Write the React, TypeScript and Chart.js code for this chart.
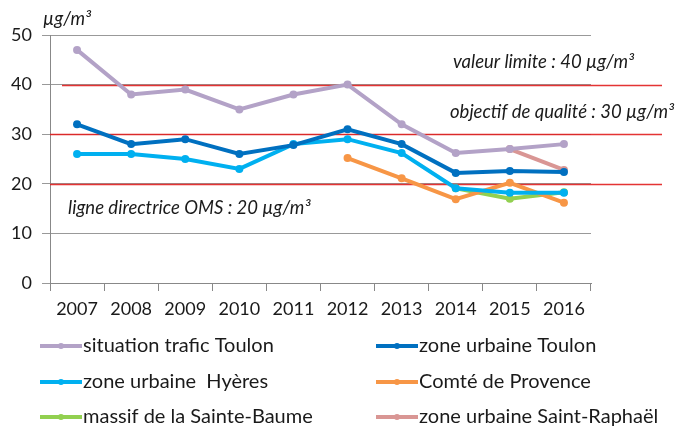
import React, { useEffect, useRef } from "react";
import { Chart, registerables } from "chart.js";

Chart.register(...registerables);

const years = ["2007", "2008", "2009", "2010", "2011", "2012", "2013", "2014", "2015", "2016"];
const traficToulon = [47, 38, 39, 35, 38, 40, 32, 26.2, 27, 28];
const urbaineToulon = [32, 28, 29, 26, 27.8, 31, 28, 22.2, 22.6, 22.4];
const urbaineHyeres = [26, 26, 25, 23, 28, 29, 26.2, 19.1, 18.2, 18.2];
const comteProvence = [null, null, null, null, null, 25.2, 21.1, 16.9, 20.2, 16.2];
const sainteBaume = [null, null, null, null, null, null, null, 19.1, 17, 18.3];
const saintRaphael = [null, null, null, null, null, null, null, null, 27, 22.8];
const seriesNames = [
  "situation trafic Toulon",
  "zone urbaine Toulon",
  "zone urbaine  Hyères",
  "Comté de Provence",
  "massif de la Sainte-Baume",
  "zone urbaine Saint-Raphaël",
];
const seriesColors = ["#b3a2c7", "#0070c0", "#00b0f0", "#f79646", "#92d050", "#d99694"];
const refValues = [40, 30, 20];
const refLabels = ["valeur limite : 40 µg/m³", "objectif de qualité : 30 µg/m³", "ligne directrice OMS : 20 µg/m³"];
const yTicks = [0, 10, 20, 30, 40, 50];
const unitLabel = "µg/m³";

const FONT = "Lato, 'Open Sans', sans-serif";

const refPlugin = {
  id: "refLines",
  beforeDatasetsDraw(chart: any) {
    const { ctx, chartArea, scales } = chart;
    const y = scales.y;
    ctx.save();
    const starts = [chartArea.left + 12, chartArea.left, chartArea.left];
    refValues.forEach((v, i) => {
      const py = Math.round(y.getPixelForValue(v)) + 0.5;
      ctx.strokeStyle = "rgba(225,30,30,0.9)";
      ctx.lineWidth = 1.5;
      ctx.beginPath();
      ctx.moveTo(starts[i], py);
      ctx.lineTo(chartArea.right + 71, py);
      ctx.stroke();
    });
    ctx.restore();
  },
  afterDraw(chart: any) {
    const { ctx, scales } = chart;
    const y = scales.y;
    ctx.save();
    ctx.fillStyle = "#1a1a1a";
    ctx.font = `italic 18.5px ${FONT}`;
    ctx.textBaseline = "middle";
    ctx.textAlign = "left";
    ctx.fillText(refLabels[0], 453, y.getPixelForValue(44.5));
    ctx.fillText(refLabels[1], 450, y.getPixelForValue(34.5));
    ctx.fillText(refLabels[2], 68, y.getPixelForValue(15.1));
    ctx.font = `italic 18.5px ${FONT}`;
    ctx.fillText(unitLabel, 43, 19);

    // legend
    const rows = [346, 382, 417];
    const cols = [40, 376];
    ctx.font = `20px ${FONT}`;
    chart.data.datasets.forEach((ds: any, i: number) => {
      const cx = cols[i % 2];
      const cy = rows[Math.floor(i / 2)];
      ctx.strokeStyle = ds.borderColor;
      ctx.lineWidth = 4;
      ctx.beginPath();
      ctx.moveTo(cx, cy);
      ctx.lineTo(cx + 42, cy);
      ctx.stroke();
      ctx.fillStyle = ds.borderColor;
      ctx.beginPath();
      ctx.arc(cx + 21, cy, 3, 0, Math.PI * 2);
      ctx.fill();
      ctx.fillStyle = "#1a1a1a";
      ctx.fillText(ds.label, cx + 43, cy);
    });
    ctx.restore();
  },
};

export default function App() {
  const ref = useRef<HTMLCanvasElement>(null);
  useEffect(() => {
    document.body.style.margin = "0";
    const all = [traficToulon, urbaineToulon, urbaineHyeres, comteProvence, sainteBaume, saintRaphael];
    const chart = new Chart(ref.current!, {
      type: "line",
      data: {
        labels: years,
        datasets: all.map((d, i) => ({
          label: seriesNames[i],
          data: d,
          borderColor: seriesColors[i],
          backgroundColor: seriesColors[i],
          borderWidth: 4,
          pointRadius: 4,
          pointBorderWidth: 0,
          tension: 0,
          spanGaps: false,
        })),
      },
      options: {
        animation: false,
        responsive: false,
        layout: { padding: { top: 35, right: 92, left: 0, bottom: 0 } },
        plugins: { legend: { display: false }, tooltip: { enabled: false } },
        scales: {
          x: {
            offset: true,
            grid: { offset: true, drawOnChartArea: false, drawTicks: true, tickLength: 8, color: "#888" },
            border: { color: "#888" },
            ticks: { color: "#1a1a1a", font: { family: FONT, size: 18 }, padding: 7, maxRotation: 0 },
            afterFit: (s: any) => { s.height = 144; },
          },
          y: {
            min: 0,
            max: 50,
            afterBuildTicks: (s: any) => { s.ticks = yTicks.map((v) => ({ value: v })); },
            grid: { color: "#999", tickLength: 8, lineWidth: 1 },
            border: { color: "#888" },
            ticks: { color: "#1a1a1a", font: { family: FONT, size: 18 }, padding: 10 },
            afterFit: (s: any) => { s.width = 50; },
          },
        },
      },
      plugins: [refPlugin],
    });
    return () => chart.destroy();
  }, []);
  return <canvas ref={ref} width={683} height={427} style={{ display: "block" }} />;
}
